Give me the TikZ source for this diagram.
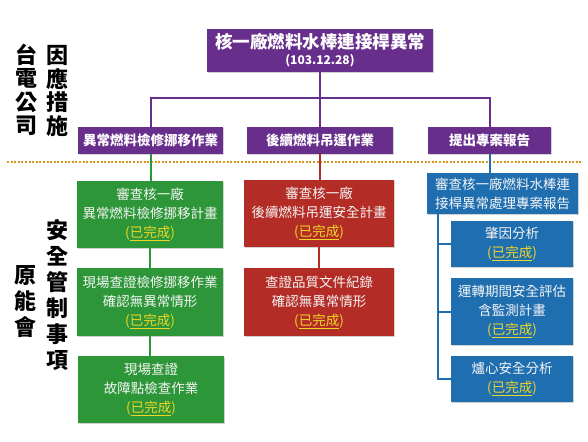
\documentclass[tikz,border=0pt]{standalone}
\usepackage{fontspec}
\setmainfont{Noto Sans CJK TC}
\usetikzlibrary{shadows}
\definecolor{cpurple}{RGB}{104,46,140}
\definecolor{cgreen}{RGB}{44,150,56}
\definecolor{cred}{RGB}{180,44,38}
\definecolor{cblue}{RGB}{30,110,176}
\definecolor{cdot}{RGB}{214,148,24}
\definecolor{cyellow}{RGB}{236,214,40}
\definecolor{ctext}{RGB}{245,245,245}
\newcommand\donetxt{{\color{cyellow}(\underline{已完成})}}
\tikzset{
  box/.style={inner sep=0pt, align=center, text=ctext,
    font=\fontsize{13.5}{19}\selectfont,
    drop shadow={shadow xshift=1.2pt, shadow yshift=-1.2pt, opacity=0.35}},
  pbox/.style={box, fill=cpurple, text=white, font=\bfseries\fontsize{13.5}{16}\selectfont},
  gbox/.style={box, fill=cgreen},
  rbox/.style={box, fill=cred},
  bbox/.style={box, fill=cblue},
  vlab/.style={inner sep=0pt, align=center, text=black, font=\bfseries\fontsize{22}{26}\selectfont},
  conn/.style={line width=2pt},
}
\begin{document}
\begin{tikzpicture}[x=1pt,y=-1pt]
\useasboundingbox[fill=white] (0,0) rectangle (588,441);
% dotted separator
\draw[cdot, line width=2.2pt, dash pattern=on 2pt off 1.6pt] (7,162) -- (582,162);
% left labels
\node[vlab, font=\bfseries\fontsize{22}{23.5}\selectfont] (tpc) at (26,90) {台\\電\\公\\司};
\node[vlab, font=\bfseries\fontsize{22}{23.5}\selectfont] (resp) at (57,91) {因\\應\\措\\施};
\node[vlab] (aec) at (25,301.5) {原\\能\\會};
\node[vlab] (ctrl) at (57,295) {安\\全\\管\\制\\事\\項};
% top box
\node[pbox, minimum width=226pt, minimum height=43pt] (top) at (320,50.5)
  {{\fontsize{17.5}{19}\selectfont 核一廠燃料水棒連接桿異常}\\[0pt]{\fontsize{12}{12}\selectfont (103.12.28)}};
% level 2
\node[pbox, minimum width=145pt, minimum height=27pt] (l1) at (150.5,140.5) {異常燃料檢修挪移作業};
\node[pbox, minimum width=146pt, minimum height=27pt] (l2) at (320,140.5) {後續燃料吊運作業};
\node[pbox, minimum width=123pt, minimum height=27pt] (l3) at (489.5,140.5) {提出專案報告};
% green column
\node[gbox, minimum width=146pt, minimum height=67pt] (g1) at (150,214.5) {審查核一廠\\異常燃料檢修挪移計畫\\\donetxt};
\node[gbox, minimum width=146pt, minimum height=68pt] (g2) at (150,302) {現場查證檢修挪移作業\\確認無異常情形\\\donetxt};
\node[gbox, minimum width=146pt, minimum height=67pt] (g3) at (151,389.5) {現場查證\\故障點檢查作業\\\donetxt};
% red column
\node[rbox, minimum width=150pt, minimum height=67pt] (r1) at (319,213.5) {審查核一廠\\後續燃料吊運安全計畫\\\donetxt};
\node[rbox, minimum width=150pt, minimum height=68pt] (r2) at (319,302) {查證品質文件紀錄\\確認無異常情形\\\donetxt};
% blue column
\node[bbox, minimum width=151pt, minimum height=41pt] (b0) at (502.5,193.5) {審查核一廠燃料水棒連\\接桿異常處理專案報告};
\node[bbox, minimum width=122pt, minimum height=46pt] (s1) at (512,244) {肇因分析\\\donetxt};
\node[bbox, minimum width=122pt, minimum height=67pt] (s2) at (512,311.5) {運轉期間安全評估\\含監測計畫\\\donetxt};
\node[bbox, minimum width=122pt, minimum height=46pt] (s3) at (512,379) {爐心安全分析\\\donetxt};
% purple tree
\coordinate (hub) at (0,98);
\draw[conn, cpurple] (top.south) -- (l2.north);
\draw[conn, cpurple] (l1.north) -- (l1.north |- hub) -- (l3.north |- hub) -- (l3.north);
% green connectors
\draw[conn, cgreen] (l1.south) -- (l1.south |- g1.north);
\draw[conn, cgreen] (g1.south) -- (g1.south |- g2.north);
\draw[conn, cgreen] (g2.south) -- (g2.south |- g3.north);
% red connectors
\draw[conn, cred] (l2.south) -- (l2.south |- r1.north);
\draw[conn, cred] (r1.south) -- (r2.north);
% blue connectors
\coordinate (bt) at (438,0);
\draw[conn, cblue] (l3.south) -- (l3.south |- b0.north);
\draw[conn, cblue] (bt |- b0.south) |- (s3.west);
\draw[conn, cblue] (bt |- s1.west) -- (s1.west);
\draw[conn, cblue] (bt |- s2.west) -- (s2.west);
\end{tikzpicture}
\end{document}
